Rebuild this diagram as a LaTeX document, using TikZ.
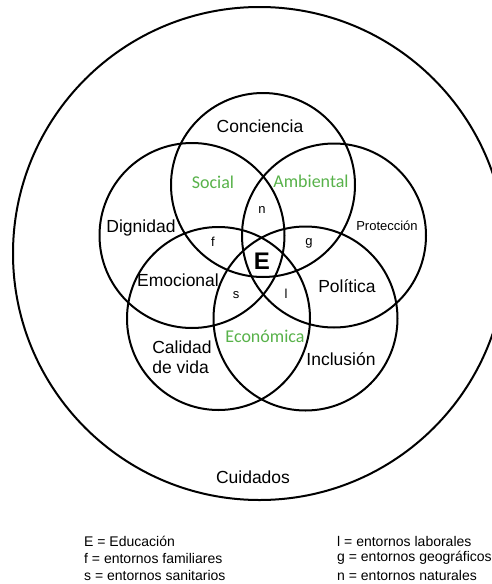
\documentclass[tikz,border=0pt]{standalone}
\usepackage{fontspec}
\setmainfont{Liberation Sans}
\newfontfamily\greenfont{Carlito}
\definecolor{vgreen}{RGB}{88,178,74}
\begin{document}
\begin{tikzpicture}[x=1pt,y=-1pt,
  ring/.style={draw=black,line width=2pt},
  big/.style={font=\fontsize{17.5}{20.5}\selectfont,inner sep=0pt},
  mid/.style={font=\fontsize{13}{15}\selectfont,inner sep=0pt},
  grn/.style={font=\greenfont\fontsize{18}{20}\selectfont,text=vgreen,inner sep=0pt},
  legend/.style={font=\fontsize{14}{16.5}\selectfont,inner sep=0pt,anchor=west}]
\useasboundingbox (0,0) rectangle (492,584);
\fill[white] (0,0) rectangle (492,584);
% circles
\draw[ring] (259.5,253.5) circle[radius=246.5];
\draw[ring] (263,185) circle[radius=92];
\draw[ring] (192,235.5) circle[radius=92.5];
\draw[ring] (334,235.5) circle[radius=92];
\draw[ring] (218.5,318.5) circle[radius=91.5];
\draw[ring] (305.5,318.5) circle[radius=92];
% labels
\node[big] (conc) at (260,126) {Conciencia};
\node[grn] (soc) at (213,182) {Social};
\node[grn] (amb) at (311,181) {Ambiental};
\node[mid] (n) at (262,210) {n};
\node[big] (dig) at (141,228) {Dignidad};
\node[mid] (prot) at (387,226) {Protección};
\node[mid] (f) at (213,242) {f};
\node[mid] (g) at (309,243) {g};
\node[font=\fontsize{24}{26}\selectfont\bfseries,inner sep=0pt] (E) at (262,261) {E};
\node[big] (emo) at (178,280) {Emocional};
\node[big] (pol) at (347,286) {Política};
\node[mid] (s) at (236,295) {s};
\node[mid] (l) at (286,294) {l};
\node[grn] (eco) at (265,336) {Económica};
\node[big,align=left] (cal) at (182,357) {Calidad\\de vida};
\node[big] (inc) at (341,359) {Inclusión};
\node[big] (cui) at (253,477) {Cuidados};
% legend
\node[legend] (l1) at (84,541) {E = Educación};
\node[legend] (l2) at (84,558) {f = entornos familiares};
\node[legend] (l3) at (84,575) {s = entornos sanitarios};
\node[legend] (r1) at (337,541) {l = entornos laborales};
\node[legend] (r2) at (337,558) {g = entornos geográficos};
\node[legend] (r3) at (337,575) {n = entornos naturales};
\end{tikzpicture}
\end{document}
